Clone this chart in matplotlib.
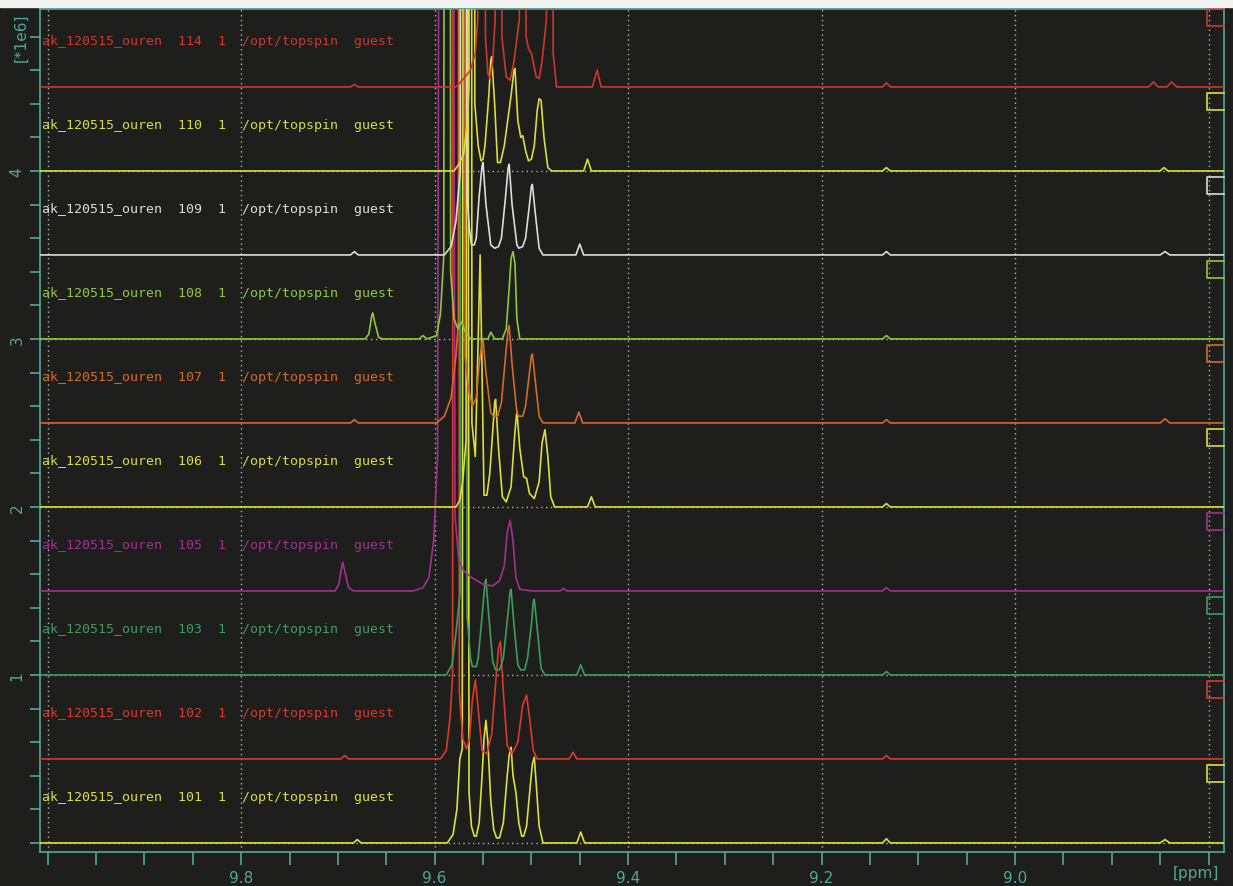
import matplotlib.pyplot as plt
import matplotlib.transforms as mtransforms
from matplotlib.patches import Rectangle
from matplotlib.ticker import FixedLocator, MultipleLocator

# stacked 1H spectra, intensities in units of 1e6, (ppm, intensity) vertices
trace_101 = [(10.01, 0), (9.684, 0), (9.680, 0.02), (9.676, 0),
             (9.587, 0), (9.581, 0.05), (9.577, 0.2), (9.574, 0.5), (9.5715, 0.56), (9.5705, 6.0), (9.5655, 6.0), (9.5645, 0.3),
             (9.562, 0.1), (9.559, 0.04), (9.557, 0.04), (9.554, 0.12), (9.551, 0.4), (9.549, 0.62), (9.547, 0.73), (9.545, 0.6), (9.542, 0.25),
             (9.539, 0.08), (9.536, 0.03), (9.533, 0.03), (9.529, 0.12), (9.525, 0.4), (9.523, 0.52), (9.521, 0.57), (9.519, 0.4), (9.516, 0.3),
             (9.513, 0.12), (9.510, 0.04), (9.508, 0.04), (9.505, 0.1), (9.501, 0.35), (9.499, 0.47), (9.497, 0.51), (9.495, 0.35),
             (9.492, 0.1), (9.488, 0),
             (9.453, 0), (9.449, 0.065), (9.445, 0),
             (9.137, 0), (9.133, 0.025), (9.129, 0), (8.850, 0), (8.845, 0.02), (8.840, 0), (8.78, 0)]
trace_102 = [(10.01, 0), (9.697, 0), (9.693, 0.02), (9.689, 0),
             (9.594, 0), (9.588, 0.05), (9.584, 0.25), (9.5815, 0.5), (9.581, 6.0), (9.575, 6.0), (9.5745, 0.4), (9.571, 0.12), (9.567, 0.06),
             (9.564, 0.12), (9.561, 0.35), (9.558, 0.47), (9.555, 0.3), (9.551, 0.05), (9.546, 0.03),
             (9.541, 0.15), (9.537, 0.45), (9.534, 0.66), (9.532, 0.70), (9.529, 0.4), (9.525, 0.08), (9.520, 0.03),
             (9.514, 0.1), (9.509, 0.32), (9.505, 0.38), (9.502, 0.25), (9.498, 0.05), (9.494, 0),
             (9.461, 0), (9.457, 0.04), (9.453, 0),
             (9.137, 0), (9.133, 0.02), (9.129, 0), (8.78, 0)]
trace_103 = [(10.01, 0), (9.588, 0), (9.582, 0.06), (9.578, 0.25), (9.5735, 0.5), (9.573, 6.0), (9.567, 6.0), (9.5665, 0.35),
             (9.563, 0.1), (9.561, 0.05), (9.557, 0.05), (9.555, 0.1), (9.551, 0.35), (9.548, 0.55), (9.547, 0.57), (9.544, 0.35),
             (9.540, 0.08), (9.537, 0.03), (9.533, 0.03),
             (9.529, 0.1), (9.525, 0.32), (9.522, 0.5), (9.521, 0.51), (9.518, 0.3), (9.514, 0.06), (9.511, 0.03), (9.507, 0.03),
             (9.504, 0.1), (9.500, 0.3), (9.498, 0.44), (9.497, 0.45), (9.494, 0.28), (9.490, 0.04), (9.486, 0),
             (9.453, 0), (9.449, 0.06), (9.445, 0),
             (9.137, 0), (9.133, 0.02), (9.129, 0), (8.78, 0)]
trace_105 = [(10.01, 0), (9.703, 0), (9.699, 0.04), (9.696, 0.15), (9.695, 0.17), (9.693, 0.12), (9.689, 0.02), (9.684, 0),
             (9.622, 0), (9.612, 0.02), (9.606, 0.08), (9.601, 0.3), (9.597, 0.8), (9.595, 6.0), (9.581, 6.0), (9.579, 0.45),
             (9.575, 0.18), (9.570, 0.12), (9.562, 0.08), (9.550, 0.04), (9.540, 0.03), (9.533, 0.06),
             (9.528, 0.15), (9.525, 0.35), (9.522, 0.42), (9.519, 0.3), (9.516, 0.08), (9.512, 0.01), (9.500, 0),
             (9.470, 0), (9.467, 0.015), (9.463, 0), (9.137, 0), (9.133, 0.02), (9.129, 0), (8.78, 0)]
trace_106 = [(10.01, 0), (9.578, 0), (9.574, 0.04), (9.571, 0.15), (9.5675, 0.4), (9.567, 6.0), (9.562, 6.0), (9.5615, 0.5),
             (9.558, 0.3), (9.555, 1.0), (9.553, 1.5), (9.551, 0.8), (9.549, 0.07), (9.546, 0.07),
             (9.543, 0.2), (9.540, 0.45), (9.538, 0.62), (9.537, 0.64), (9.534, 0.35), (9.530, 0.06), (9.526, 0.03),
             (9.521, 0.12), (9.517, 0.45), (9.515, 0.57), (9.512, 0.35), (9.508, 0.18), (9.505, 0.17), (9.502, 0.08), (9.497, 0.05),
             (9.492, 0.15), (9.489, 0.38), (9.486, 0.46), (9.483, 0.3), (9.480, 0.06), (9.476, 0),
             (9.442, 0), (9.438, 0.06), (9.434, 0),
             (9.137, 0), (9.133, 0.02), (9.129, 0), (8.78, 0)]
trace_107 = [(10.01, 0), (9.687, 0), (9.683, 0.02), (9.679, 0),
             (9.598, 0), (9.590, 0.04), (9.583, 0.15), (9.578, 0.4), (9.5755, 0.6), (9.575, 6.0), (9.569, 6.0), (9.5685, 0.4),
             (9.565, 0.2), (9.561, 0.1), (9.557, 0.15), (9.554, 0.35), (9.551, 0.48), (9.550, 0.50), (9.547, 0.3), (9.542, 0.06),
             (9.539, 0.04), (9.535, 0.04),
             (9.531, 0.12), (9.527, 0.38), (9.524, 0.56), (9.523, 0.58), (9.520, 0.35), (9.515, 0.06), (9.513, 0.04), (9.509, 0.04),
             (9.506, 0.1), (9.502, 0.3), (9.500, 0.40), (9.499, 0.41), (9.496, 0.25), (9.492, 0.04), (9.488, 0),
             (9.455, 0), (9.451, 0.065), (9.447, 0),
             (9.137, 0), (9.133, 0.02), (9.129, 0), (8.850, 0), (8.845, 0.025), (8.840, 0), (8.78, 0)]
trace_108 = [(10.01, 0), (9.672, 0), (9.668, 0.03), (9.665, 0.14), (9.664, 0.155), (9.662, 0.1), (9.658, 0.01), (9.654, 0),
             (9.616, 0), (9.612, 0.02), (9.608, 0),
             (9.598, 0.02), (9.594, 0.15), (9.5905, 0.5), (9.590, 6.0), (9.584, 6.0), (9.5835, 0.4), (9.580, 0.12),
             (9.576, 0.06), (9.574, 0.09), (9.572, 0.1), (9.569, 0.05), (9.563, 0),
             (9.545, 0), (9.542, 0.04), (9.538, 0), (9.530, 0),
             (9.526, 0.06), (9.523, 0.3), (9.521, 0.48), (9.519, 0.52), (9.517, 0.45), (9.515, 0.12), (9.512, 0),
             (9.137, 0), (9.133, 0.02), (9.129, 0), (8.78, 0)]
trace_109 = [(10.01, 0), (9.687, 0), (9.683, 0.02), (9.679, 0),
             (9.590, 0), (9.583, 0.05), (9.578, 0.2), (9.5735, 0.5), (9.573, 6.0), (9.567, 6.0), (9.5665, 0.35),
             (9.564, 0.15), (9.562, 0.06), (9.559, 0.06), (9.557, 0.1), (9.554, 0.35), (9.551, 0.53), (9.550, 0.55), (9.547, 0.3),
             (9.542, 0.06), (9.538, 0.04), (9.534, 0.05),
             (9.531, 0.1), (9.527, 0.33), (9.524, 0.52), (9.523, 0.54), (9.520, 0.3), (9.515, 0.06), (9.513, 0.04), (9.509, 0.05),
             (9.506, 0.1), (9.502, 0.3), (9.500, 0.41), (9.499, 0.42), (9.496, 0.25), (9.492, 0.04), (9.488, 0),
             (9.454, 0), (9.450, 0.065), (9.446, 0),
             (9.137, 0), (9.133, 0.02), (9.129, 0), (8.850, 0), (8.845, 0.02), (8.840, 0), (8.78, 0)]
trace_110 = [(10.01, 0), (9.580, 0), (9.575, 0.04), (9.570, 0.1), (9.566, 0.3), (9.5645, 0.5), (9.564, 6.0), (9.559, 6.0), (9.5585, 0.4),
             (9.555, 0.15), (9.552, 0.06), (9.550, 0.07), (9.548, 0.15), (9.544, 0.45), (9.542, 0.66), (9.541, 0.68), (9.538, 0.4),
             (9.535, 0.05), (9.532, 0.05),
             (9.528, 0.15), (9.521, 0.45), (9.518, 0.6), (9.517, 0.61), (9.514, 0.3), (9.511, 0.2), (9.509, 0.21), (9.506, 0.12),
             (9.503, 0.06), (9.500, 0.07),
             (9.497, 0.15), (9.494, 0.36), (9.492, 0.43), (9.490, 0.42), (9.487, 0.2), (9.483, 0.02), (9.479, 0),
             (9.446, 0), (9.442, 0.07), (9.438, 0),
             (9.137, 0), (9.133, 0.02), (9.129, 0), (8.850, 0), (8.846, 0.02), (8.842, 0), (8.78, 0)]
trace_114 = [(10.01, 0), (9.687, 0), (9.683, 0.015), (9.679, 0),
             (9.578, 0), (9.570, 0.05), (9.563, 0.1), (9.558, 0.2), (9.5555, 0.4), (9.555, 3.0), (9.548, 3.0), (9.5475, 0.3),
             (9.545, 0.08), (9.543, 0.05), (9.540, 0.15), (9.5375, 0.4), (9.537, 3.0), (9.531, 3.0), (9.5305, 0.3),
             (9.526, 0.06), (9.522, 0.04), (9.518, 0.15), (9.5125, 0.4), (9.512, 3.0), (9.506, 3.0), (9.5055, 0.3), (9.503, 0.23), (9.500, 0.2),
             (9.495, 0.06), (9.492, 0.05), (9.489, 0.15), (9.4845, 0.4), (9.484, 3.0), (9.478, 3.0), (9.4775, 0.2), (9.474, 0),
             (9.437, 0), (9.432, 0.10), (9.428, 0),
             (9.137, 0), (9.133, 0.025), (9.129, 0), (8.862, 0), (8.857, 0.03), (8.852, 0),
             (8.843, 0), (8.838, 0.03), (8.833, 0), (8.78, 0)]

exp_nos = ['101', '102', '103', '105', '106', '107', '108', '109', '110', '114']
offsets = [0.0, 0.5, 1.0, 1.5, 2.0, 2.5, 3.0, 3.5, 4.0, 4.5]
traces = [trace_101, trace_102, trace_103, trace_105, trace_106,
          trace_107, trace_108, trace_109, trace_110, trace_114]
colors = ['#dede3e', '#d83a2c', '#3d9c5c', '#a2308e', '#dcdc3c',
          '#d46a2a', '#8fc83c', '#dcdcdc', '#d8dc40', '#cc382c']

x_major = [10.0, 9.8, 9.6, 9.4, 9.2, 9.0, 8.8]
x_labels = ['', '9.8', '9.6', '9.4', '9.2', '9.0', '']
y_major = [0, 1, 2, 3, 4]
y_labels = ['', '1', '2', '3', '4']

BG = '#1e1f1c'
TEAL = '#4fa898'

fig = plt.figure(figsize=(12.33, 8.87), dpi=100, facecolor=BG)
ax = fig.add_axes([40/1233, 1 - 853/887, 1184/1233, 843/887])
ax.set_facecolor(BG)
mixed = mtransforms.blended_transform_factory(ax.transAxes, ax.transData)

for tr, off, col, no in zip(traces, offsets, colors, exp_nos):
    xs = [p[0] for p in tr]
    ys = [p[1] + off for p in tr]
    ax.plot(xs, ys, color=col, lw=1.2, zorder=3)
    ax.text(0.0017, off + 0.274, 'ak_120515_ouren  %s  1  /opt/topspin  guest' % no,
            color=col, fontsize=9.5, family='DejaVu Sans Mono', va='center', ha='left',
            transform=mixed)
    # little open box at the right edge for each row
    ax.plot([1.0, 0.9856, 0.9856, 1.0], [off + 0.464, off + 0.464, off + 0.363, off + 0.363],
            color=col, lw=1.2, transform=mixed, clip_on=False, zorder=4)

ax.set_xlim(10.008, 8.784)
ax.set_ylim(-0.054, 4.964)

ax.xaxis.set_major_locator(FixedLocator(x_major))
ax.set_xticklabels(x_labels)
ax.xaxis.set_minor_locator(MultipleLocator(0.05))
ax.yaxis.set_major_locator(FixedLocator(y_major))
ax.set_yticklabels(y_labels)
ax.yaxis.set_minor_locator(MultipleLocator(0.2))

ax.tick_params(axis='x', which='both', direction='out', length=9, width=1.2,
               color=TEAL, labelcolor=TEAL, labelsize=11, pad=4)
ax.tick_params(axis='y', which='both', direction='out', length=7, width=1.2,
               color=TEAL, labelcolor=TEAL, labelsize=11, pad=4, labelrotation=90)
for lab in ax.get_yticklabels():
    lab.set_va('center')

ax.grid(True, which='major', color='#b4b4b4', linestyle=(0, (1, 2.5)), linewidth=1.0, zorder=1)
ax.set_axisbelow(True)

for sp in ax.spines.values():
    sp.set_color(TEAL)
    sp.set_linewidth(1.2)

ax.text(0.976, -0.024, '[ppm]', color=TEAL, fontsize=11, ha='center', va='center',
        transform=ax.transAxes)
ax.text(-0.016, 0.967, '[*1e6]', color=TEAL, fontsize=11, rotation=90, ha='center',
        va='center', transform=ax.transAxes)

fig.patches.append(Rectangle((0, 1 - 8/887), 1, 8/887, transform=fig.transFigure,
                             color='#f2f2f2', zorder=0))

fig.savefig('out.png', dpi=100, facecolor=BG)
